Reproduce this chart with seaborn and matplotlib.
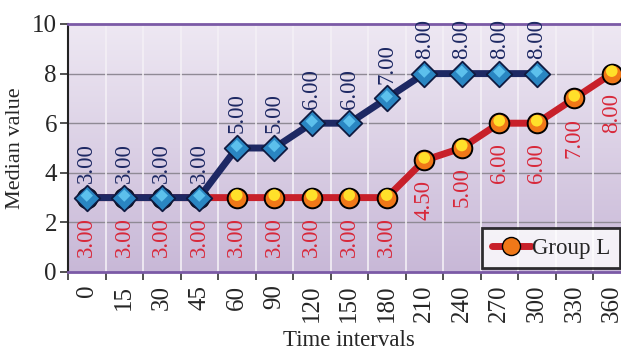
import numpy as np
import pandas as pd
import matplotlib
matplotlib.use("Agg")
import matplotlib.pyplot as plt
import seaborn as sns
from matplotlib.lines import Line2D

time_labels = ["0", "15", "30", "45", "60", "90", "120", "150", "180", "210", "240", "270", "300", "330", "360"]
group_blue = [3, 3, 3, 3, 5, 5, 6, 6, 7, 8, 8, 8, 8]
group_l = [3, 3, 3, 3, 3, 3, 3, 3, 3, 4.5, 5, 6, 6, 7, 8]

sns.set_style("white")
plt.rcParams["font.family"] = ["Liberation Serif", "DejaVu Serif"]

navy = "#1d2863"
red = "#c8202a"
red_txt = "#d8283a"

fig = plt.figure(figsize=(6.21, 3.51), dpi=100)
ax = fig.add_axes([68/621, 1-272/351, (630.5-68)/621, (272-24)/351])

df_b = pd.DataFrame({"x": np.arange(len(group_blue)), "y": group_blue})
df_r = pd.DataFrame({"x": np.arange(len(group_l)), "y": group_l})

# gradient background
grad = np.linspace(0, 1, 256).reshape(-1, 1)
top = np.array([238, 232, 243]) / 255
bot = np.array([200, 184, 215]) / 255
img = top[None, None, :] * (1 - grad[:, :, None]) + bot[None, None, :] * grad[:, :, None]
ax.imshow(img, extent=(-0.5, 14.5, 0, 10), aspect="auto", origin="upper", zorder=0)

# grid
for yv in [2, 4, 6, 8]:
    ax.axhline(yv, color="#8f8a95", lw=1.0, zorder=1)
for k in range(15):
    ax.axvline(k - 0.5, color="#f4f0f6", lw=1.2, zorder=1)

# red series
sns.lineplot(data=df_r, x="x", y="y", ax=ax, color=red, lw=5, zorder=3, legend=False)
ax.scatter(df_r["x"], df_r["y"], s=200, c="#f07818", edgecolors="black", linewidths=1.4, zorder=4)
ax.scatter(df_r["x"], df_r["y"] + 0.1, s=70, c="#ffe02a", edgecolors="none", zorder=5)

# blue series
sns.lineplot(data=df_b, x="x", y="y", ax=ax, color=navy, lw=5, zorder=6, legend=False)
ax.scatter(df_b["x"], df_b["y"], s=170, marker="D", c="#2a86c2", edgecolors="#0f1a40", linewidths=1.3, zorder=7)
ax.scatter(df_b["x"], df_b["y"] + 0.08, s=40, marker="D", c="#5cc0ec", edgecolors="none", zorder=8)

# data labels
for i, v in enumerate(group_blue):
    ax.annotate(f"{v:.2f}", (i, v), xytext=(0, 10.5), textcoords="offset points",
                rotation=90, ha="center", va="bottom", color=navy, fontsize=16.5, zorder=9)
for i, v in enumerate(group_l):
    ax.annotate(f"{v:.2f}", (i, v), xytext=(0, -14), textcoords="offset points",
                rotation=90, ha="center", va="top", color=red_txt, fontsize=16.5, zorder=9)

ax.set_xlim(-0.5, 14.5)
ax.set_ylim(0, 10)
ax.set_yticks([0, 2, 4, 6, 8, 10])
ax.set_xticks(np.arange(15))
ax.set_xticklabels(time_labels, rotation=90, fontsize=18)
ax.tick_params(axis="y", labelsize=18, length=6, width=1.2, direction="out", left=True, color="#333333", pad=2)
ax.tick_params(axis="x", length=0, pad=9)
ax.set_xticks(np.arange(15) - 0.5, minor=True)
ax.tick_params(axis="x", which="minor", length=6, width=1.2, bottom=True, color="#333333")

ax.spines["left"].set_color("#222222")
ax.spines["left"].set_linewidth(1.5)
ax.spines["top"].set_color("#7b5aa6")
ax.spines["top"].set_linewidth(2)
ax.spines["bottom"].set_color("#7b5aa6")
ax.spines["bottom"].set_linewidth(2)
ax.spines["right"].set_visible(False)

ax.set_xlabel("Time intervals", fontsize=16.5, labelpad=6)
ax.set_ylabel("Median value", fontsize=16, labelpad=5)

handle = Line2D([0], [0], color=red, lw=5, marker="o", markersize=13,
                markerfacecolor="#f07818", markeredgecolor="black")
leg = fig.legend([handle], ["Group L"], loc="upper left", bbox_to_anchor=(482/621, 1-228/351),
                 fontsize=16.5, frameon=True, fancybox=False, handlelength=1.7, borderpad=0.42,
                 handletextpad=0.05, borderaxespad=0)
leg.get_frame().set_edgecolor("black")
leg.get_frame().set_linewidth(2)
leg.set_zorder(20)

fig.savefig("out.png", dpi=100)
